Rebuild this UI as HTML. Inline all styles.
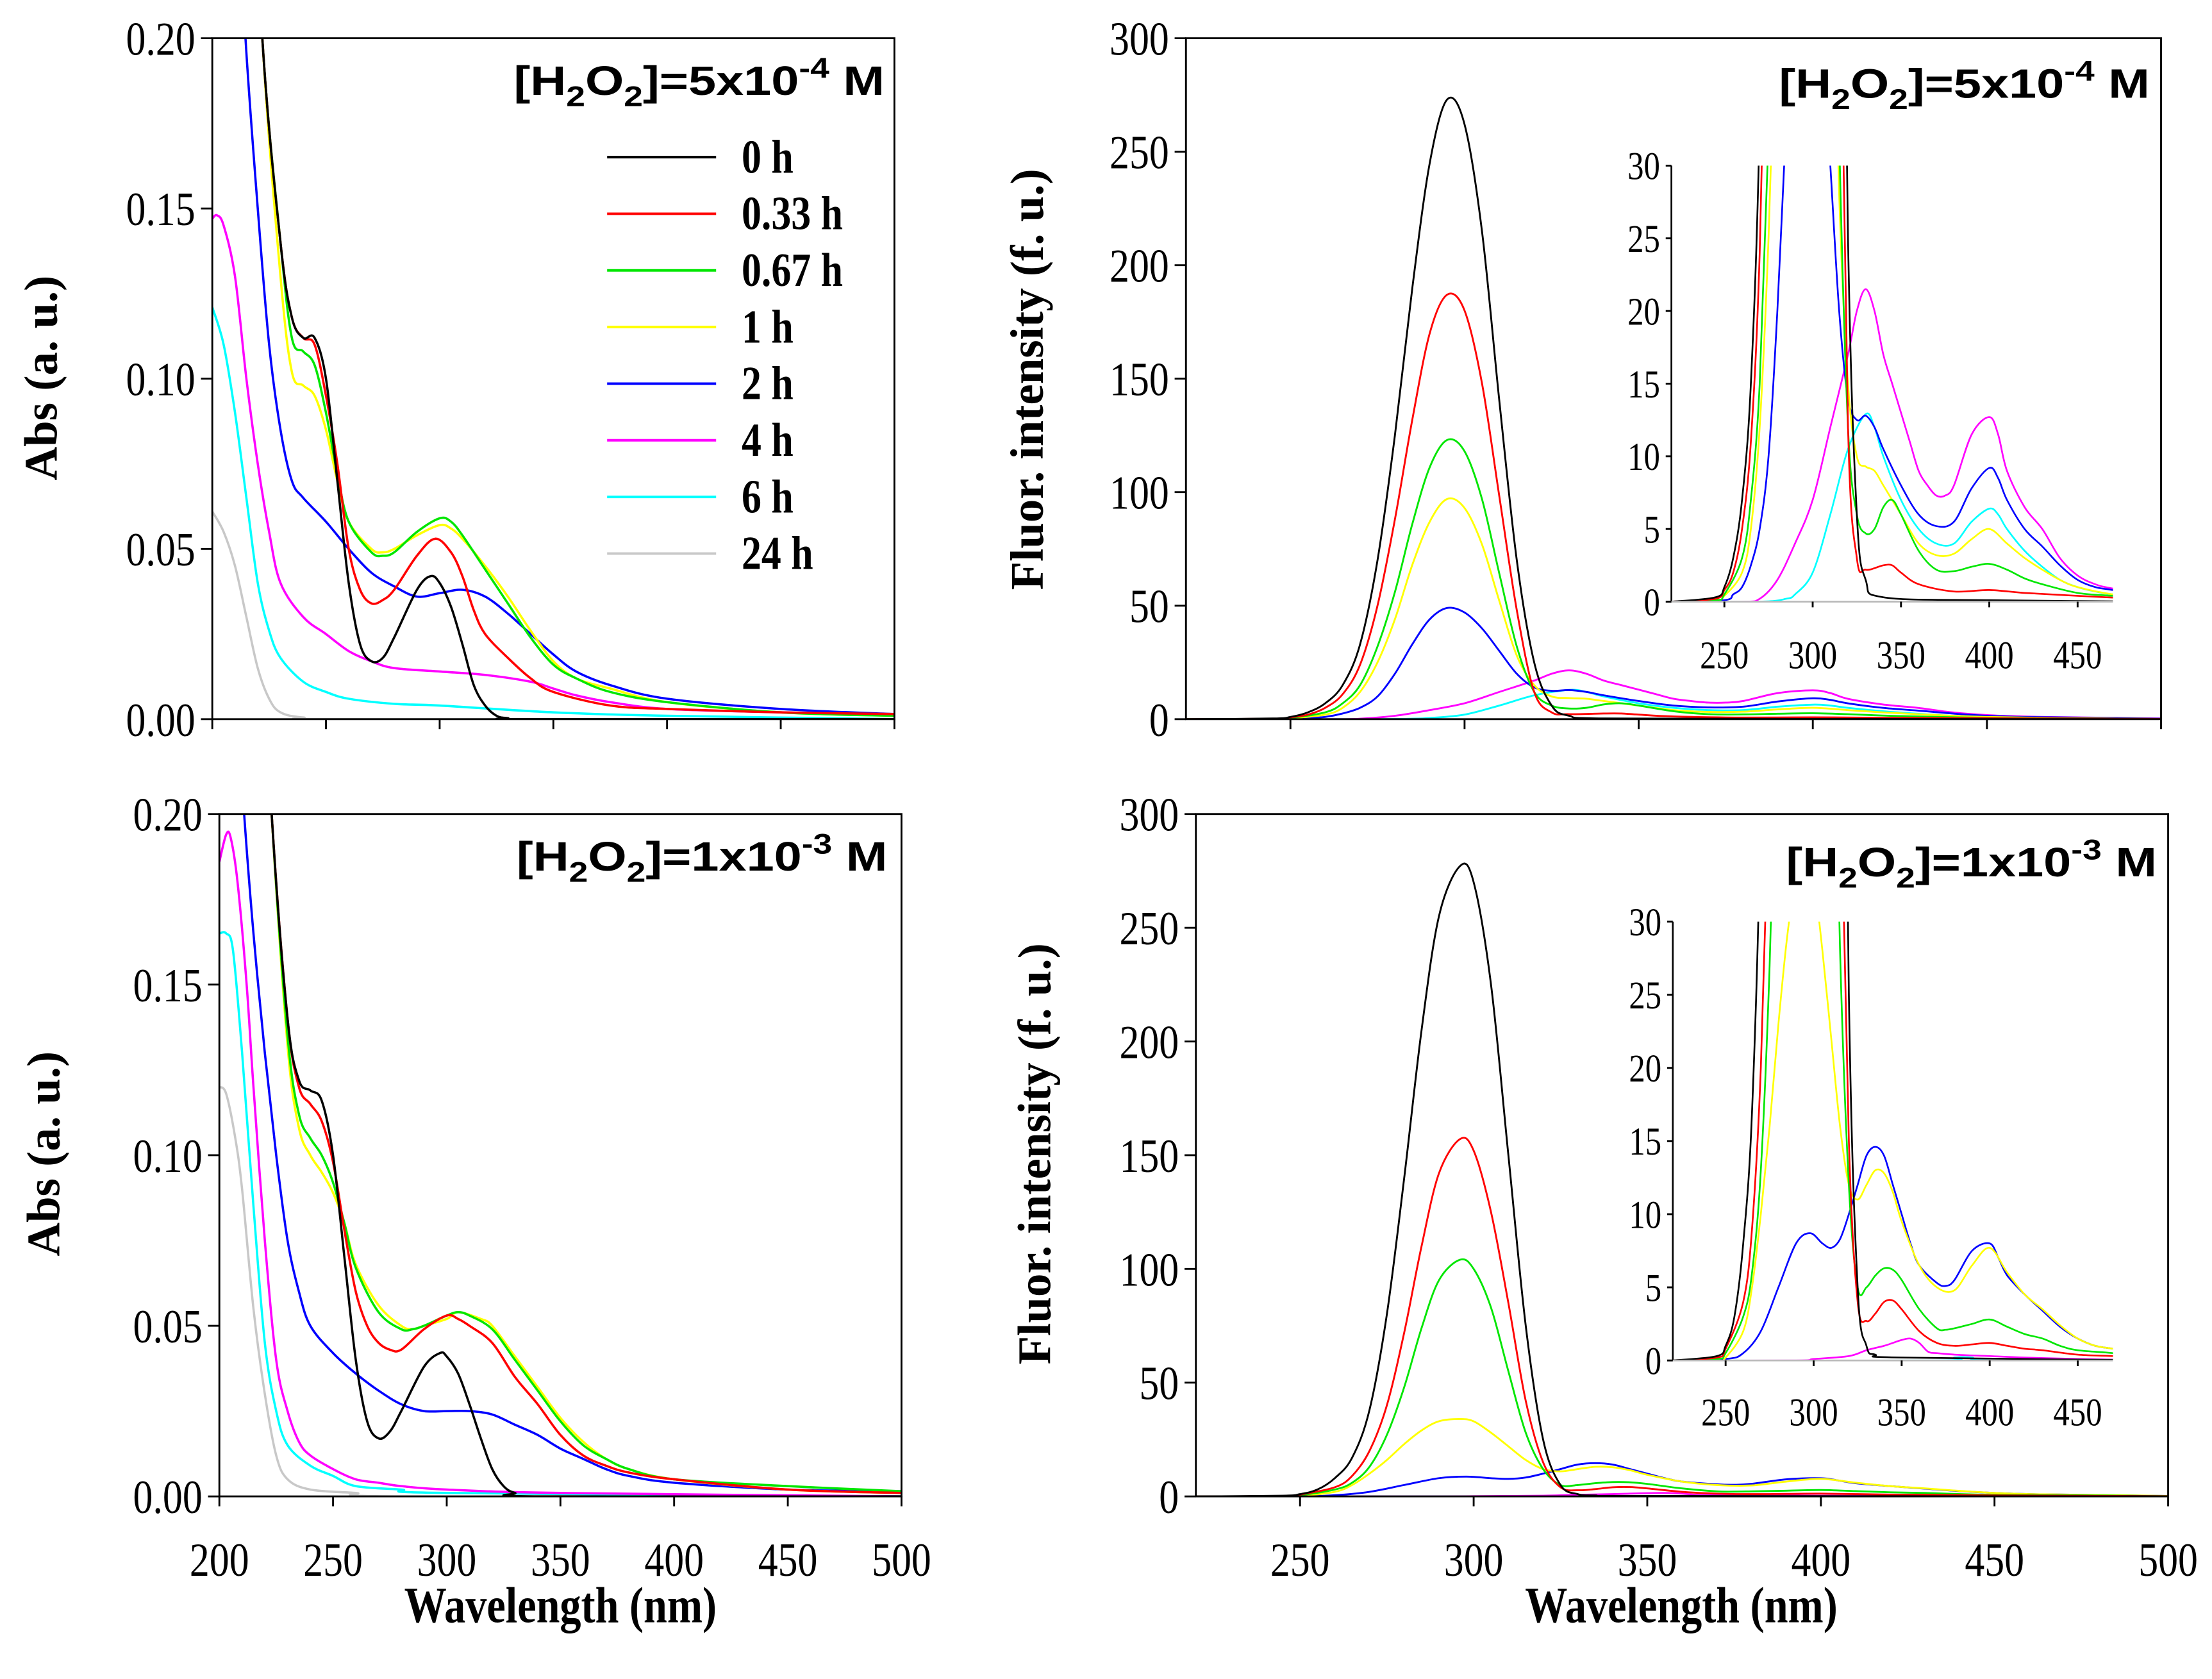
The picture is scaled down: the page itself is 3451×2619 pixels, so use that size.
<!DOCTYPE html>
<html><head><meta charset="utf-8"><style>
html,body{margin:0;padding:0;background:#fff;}
svg{display:block;}
</style></head><body>
<svg id="fig" xmlns="http://www.w3.org/2000/svg" width="3451" height="2619" viewBox="0 0 1563 1186" preserveAspectRatio="none">
<rect x="0" y="0" width="1563" height="1186" fill="#fff"/>
<g id="root"></g>
</svg>
<script>
// ---------- data: top-left absorbance, [H2O2]=5e-4 M ----------
const tlBlack=[[200,0.6],[215,0.3],[222,0.2],[230,0.14],[235,0.118],[240,0.112],[245,0.112],[250,0.1],[255,0.07],[260,0.04],[265,0.022],[270,0.017],[275,0.018],[280,0.024],[290,0.038],[296,0.042],[300,0.04],[305,0.033],[310,0.022],[315,0.01],[320,0.004],[325,0.001],[330,0.0003],[340,0],[500,0]];
const tlRed=[[200,0.6],[215,0.3],[222,0.2],[230,0.14],[235,0.118],[240,0.112],[245,0.11],[250,0.095],[255,0.075],[260,0.05],[265,0.038],[270,0.034],[275,0.035],[280,0.038],[290,0.048],[298,0.053],[305,0.049],[310,0.042],[315,0.032],[320,0.025],[330,0.018],[340,0.012],[350,0.008],[375,0.004],[400,0.003],[450,0.002],[500,0.0015]];
const tlGreen=[[200,0.6],[215,0.3],[222,0.2],[230,0.14],[235,0.112],[240,0.108],[245,0.104],[250,0.09],[255,0.072],[260,0.058],[270,0.049],[275,0.048],[280,0.049],[290,0.055],[300,0.059],[305,0.058],[310,0.054],[320,0.044],[330,0.034],[340,0.024],[350,0.016],[360,0.012],[375,0.008],[400,0.005],[450,0.002],[500,0.001]];
const tlYellow=[[200,0.6],[215,0.3],[222,0.2],[230,0.13],[235,0.102],[240,0.098],[245,0.095],[250,0.085],[255,0.07],[260,0.058],[270,0.05],[275,0.049],[280,0.05],[290,0.054],[300,0.057],[305,0.056],[310,0.053],[320,0.045],[330,0.036],[340,0.026],[350,0.017],[360,0.012],[375,0.009],[400,0.005],[450,0.002],[500,0.001]];
const tlBlue=[[200,0.4],[210,0.26],[214.6,0.2],[220,0.15],[225,0.11],[230,0.085],[235,0.07],[240,0.065],[250,0.058],[260,0.05],[270,0.043],[280,0.039],[290,0.036],[300,0.037],[310,0.038],[320,0.036],[330,0.031],[340,0.025],[350,0.019],[360,0.014],[375,0.01],[400,0.006],[450,0.003],[500,0.0015]];
const tlMagenta=[[200,0.147],[202,0.148],[205,0.145],[210,0.13],[215,0.1],[220,0.075],[225,0.055],[230,0.04],[240,0.03],[250,0.025],[260,0.02],[270,0.017],[280,0.015],[300,0.014],[320,0.013],[340,0.011],[350,0.009],[360,0.007],[375,0.005],[400,0.003],[450,0.002],[500,0.001]];
const tlCyan=[[200,0.121],[205,0.11],[210,0.09],[215,0.065],[220,0.04],[225,0.026],[230,0.018],[240,0.011],[250,0.008],[260,0.006],[280,0.0045],[300,0.004],[350,0.002],[400,0.001],[500,0]];
const tlGray=[[200,0.061],[205,0.055],[210,0.045],[215,0.03],[220,0.015],[225,0.006],[230,0.002],[240,0.0005],[260,0],[500,0]];
// ---------- data: bottom-left absorbance, [H2O2]=1e-3 M ----------
const blBlack=[[215,0.3],[223,0.2],[230,0.14],[235,0.122],[240,0.119],[245,0.116],[250,0.1],[255,0.07],[260,0.04],[265,0.022],[270,0.017],[275,0.019],[280,0.025],[290,0.038],[297,0.042],[300,0.041],[305,0.036],[310,0.027],[315,0.017],[320,0.008],[325,0.003],[330,0.001],[340,0],[500,0]];
const blRed=[[215,0.3],[223,0.2],[230,0.14],[235,0.12],[240,0.115],[245,0.11],[250,0.098],[255,0.078],[260,0.06],[265,0.05],[270,0.045],[275,0.043],[280,0.043],[290,0.049],[300,0.053],[305,0.052],[310,0.05],[320,0.045],[330,0.035],[340,0.027],[350,0.018],[360,0.012],[370,0.009],[380,0.007],[400,0.005],[450,0.002],[500,0.001]];
const blGreen=[[215,0.3],[223,0.2],[230,0.135],[235,0.112],[240,0.105],[245,0.1],[250,0.092],[255,0.08],[260,0.067],[270,0.054],[280,0.049],[285,0.049],[290,0.05],[300,0.053],[305,0.054],[310,0.053],[320,0.049],[330,0.04],[340,0.031],[350,0.022],[360,0.015],[370,0.011],[380,0.008],[400,0.005],[450,0.003],[500,0.0015]];
const blYellow=[[215,0.3],[223,0.2],[230,0.132],[235,0.108],[240,0.1],[245,0.095],[250,0.089],[255,0.08],[260,0.068],[270,0.056],[280,0.05],[285,0.049],[290,0.05],[300,0.052],[305,0.054],[315,0.052],[320,0.05],[330,0.041],[340,0.032],[350,0.023],[360,0.016],[370,0.011],[380,0.008],[400,0.005],[450,0.002],[500,0.001]];
const blBlue=[[205,0.26],[210.9,0.2],[215,0.165],[220,0.13],[225,0.1],[230,0.075],[235,0.06],[240,0.05],[250,0.042],[260,0.036],[270,0.031],[280,0.027],[290,0.025],[300,0.025],[310,0.025],[320,0.024],[330,0.021],[340,0.018],[350,0.014],[360,0.011],[370,0.008],[380,0.006],[400,0.004],[450,0.002],[500,0.0015]];
const blMagenta=[[200,0.186],[203,0.194],[205,0.193],[208,0.18],[212,0.15],[215,0.12],[220,0.075],[225,0.04],[230,0.025],[235,0.016],[240,0.012],[250,0.008],[260,0.005],[270,0.004],[280,0.003],[300,0.002],[350,0.001],[500,0]];
const blCyan=[[200,0.165],[203,0.165],[206,0.16],[210,0.13],[215,0.085],[220,0.045],[225,0.025],[230,0.015],[240,0.009],[250,0.006],[260,0.003],[280,0.002],[300,0.001],[500,0]];
const blGray=[[200,0.12],[203,0.118],[207,0.105],[210,0.09],[215,0.055],[220,0.03],[225,0.012],[230,0.005],[240,0.002],[260,0.001],[280,0],[500,0]];
// ---------- data: top-right fluorescence, [H2O2]=5e-4 M ----------
const trBlack=[[220,0],[245,0.3],[250,1],[255,3],[260,7],[265,15],[270,33],[275,70],[280,125],[285,190],[290,245],[295,273],[300,262],[305,215],[310,140],[315,70],[320,25],[325,6],[330,1.5],[340,0.3],[400,0.1],[500,0]];
const trRed=[[220,0],[245,0.2],[250,0.8],[255,2],[260,5],[265,11],[270,24],[275,50],[280,88],[285,132],[290,170],[295,187],[300,180],[305,148],[310,98],[315,48],[320,12],[325,3],[330,2.2],[340,2.5],[345,2.5],[350,2],[360,1.2],[380,0.7],[400,0.8],[420,0.6],[450,0.4],[500,0.1]];
const trGreen=[[220,0],[245,0.1],[250,0.5],[260,3],[265,7],[270,15],[275,32],[280,56],[285,86],[290,111],[295,123],[300,118],[305,97],[310,64],[315,32],[320,12],[325,6],[330,4.7],[335,5],[340,6.5],[345,7],[350,6],[360,3.5],[370,2.2],[380,2.1],[390,2.4],[400,2.6],[410,2.2],[420,1.6],[430,1.2],[450,0.6],[470,0.4],[500,0.1]];
const trYellow=[[220,0],[245,0.1],[250,0.4],[260,2],[265,5],[270,12],[275,25],[280,44],[285,68],[290,87],[295,97],[300,93],[305,77],[310,52],[315,28],[320,15],[325,10],[330,9.3],[335,9],[340,8],[350,6],[360,4],[370,3.2],[380,3.3],[390,4.3],[400,5],[410,4],[420,3],[430,2.2],[440,1.5],[450,1],[470,0.5],[500,0.1]];
const trBlue=[[220,0],[250,0.1],[255,0.5],[260,1],[265,2.5],[270,5],[275,10],[280,20],[285,33],[290,44],[295,49],[300,47],[305,40],[310,30],[315,20],[320,14],[325,12.5],[330,12.8],[335,12],[340,10.5],[350,8],[360,6],[370,5.2],[380,5.5],[390,7.8],[400,9.2],[405,8.5],[410,7],[420,5],[430,3.8],[440,2.5],[450,1.5],[460,1],[470,0.8],[500,0.2]];
const trMagenta=[[220,0],[260,0],[270,0.2],[280,1.5],[290,4],[300,7],[310,12],[320,17],[325,20],[330,21.5],[335,20],[340,17],[345,15],[350,13],[355,11],[360,9],[365,8],[370,7.3],[375,7.3],[380,8],[390,11.5],[400,12.7],[405,11.5],[410,9],[420,6.5],[430,5],[440,3],[450,1.8],[460,1.2],[470,0.9],[500,0.3]];
const trCyan=[[220,0],[270,0],[285,0.2],[290,0.5],[300,2],[310,6],[320,10.5],[330,12.9],[335,12],[340,10],[350,7],[360,5],[370,4],[380,4],[390,5.5],[400,6.4],[405,6],[410,5],[420,3.5],[430,2.4],[440,1.5],[450,1],[460,0.7],[470,0.5],[500,0.1]];
const trGray=[[220,0],[500,0]];
// ---------- data: bottom-right fluorescence, [H2O2]=1e-3 M ----------
const brBlack=[[220,0],[245,0.3],[250,1],[255,3],[260,8],[265,17],[270,38],[275,80],[280,140],[285,205],[290,255],[296,277],[300,270],[305,225],[310,150],[315,75],[320,25],[325,5],[330,1],[335,0.4],[350,0.2],[500,0]];
const brRed=[[220,0],[245,0.2],[250,0.8],[260,4],[265,9],[270,20],[275,40],[280,72],[285,110],[290,142],[296,157],[300,152],[305,125],[310,85],[315,42],[320,15],[325,4],[330,2.7],[335,3.2],[340,4],[345,4.1],[350,3.5],[360,2],[370,1.2],[380,1],[390,1.1],[400,1.2],[410,1],[420,0.8],[430,0.7],[450,0.4],[470,0.3],[500,0.1]];
const brGreen=[[220,0],[245,0.1],[250,0.5],[260,3],[265,6],[270,13],[275,27],[280,48],[285,74],[290,95],[296,104],[300,100],[305,83],[310,55],[315,28],[320,12],[325,5],[330,5],[335,5.8],[340,6.3],[345,6.2],[350,5.5],[360,3.5],[370,2.2],[375,2.1],[380,2.2],[390,2.5],[400,2.8],[410,2.3],[420,1.8],[430,1.5],[440,1],[450,0.7],[470,0.5],[500,0.1]];
const brYellow=[[220,0],[245,0],[250,0.2],[260,2],[265,5],[270,10],[275,16],[280,23],[285,29],[290,33],[296,34],[300,33],[305,28],[310,22],[315,16],[320,12],[325,11],[330,12],[335,13],[340,12.8],[345,11.5],[350,9.5],[360,6.5],[370,5],[380,4.8],[390,6.5],[400,7.7],[410,6],[420,4.5],[430,3.5],[440,2.4],[450,1.5],[460,1],[470,0.8],[500,0.2]];
const brBlue=[[220,0],[250,0.1],[260,0.5],[270,2],[280,5],[290,8],[298,8.7],[305,8],[310,7.7],[315,8.3],[320,10],[325,12],[330,14],[335,14.6],[340,14],[345,12],[350,10],[355,8],[360,6.5],[370,5.3],[375,5.1],[380,5.5],[390,7.5],[400,8],[405,7],[410,5.8],[420,4.5],[430,3.4],[440,2.3],[450,1.5],[460,1],[470,0.8],[500,0.2]];
const brMagenta=[[220,0],[290,0],[300,0.1],[320,0.3],[330,0.7],[340,1],[345,1.2],[350,1.4],[355,1.5],[360,1.2],[365,0.6],[370,0.5],[380,0.4],[400,0.3],[420,0.2],[450,0.1],[500,0]];
const brCyan=[[220,0],[370,0],[380,0.2],[390,0.2],[400,0],[500,0]];
const brGray=[[220,0],[500,0]];

const absYTicks=[0,0.05,0.10,0.15,0.20];
const absYLabels=["0.00","0.05","0.10","0.15","0.20"];
const absXTicks=[200,250,300,350,400,450,500];
const flYTicks=[0,50,100,150,200,250,300];
const flXTicks=[250,300,350,400,450,500];
const inYTicks=[0,5,10,15,20,25,30];
const inXTicks=[250,300,350,400,450];
const legendLabels=["0 h","0.33 h","0.67 h","1 h","2 h","4 h","6 h","24 h"];
const COLORS=["#000000","#ff0000","#00e600","#ffff00","#0000ff","#ff00ff","#00ffff","#c8c8c8"];

const NS="http://www.w3.org/2000/svg";
const root=document.getElementById('root');
function mk(tag,attrs,parent){const e=document.createElementNS(NS,tag);for(const k in attrs)e.setAttribute(k,attrs[k]);(parent||root).appendChild(e);return e;}
function sx(p,x){return p.x0+(x-p.xmin)/(p.xmax-p.xmin)*(p.x1-p.x0);}
function sy(p,y){return p.y1-(y-p.ymin)/(p.ymax-p.ymin)*(p.y1-p.y0);}
function pathD(p,pts){
  const P=pts.map(q=>[sx(p,q[0]),sy(p,q[1])]);
  let d="M"+P[0][0].toFixed(2)+","+P[0][1].toFixed(2);
  for(let i=0;i<P.length-1;i++){
    const p0=P[Math.max(0,i-1)],p1=P[i],p2=P[i+1],p3=P[Math.min(P.length-1,i+2)];
    const c1=[p1[0]+(p2[0]-p0[0])/6,p1[1]+(p2[1]-p0[1])/6];
    const c2=[p2[0]-(p3[0]-p1[0])/6,p2[1]-(p3[1]-p1[1])/6];
    d+=" C"+c1[0].toFixed(2)+","+c1[1].toFixed(2)+" "+c2[0].toFixed(2)+","+c2[1].toFixed(2)+" "+p2[0].toFixed(2)+","+p2[1].toFixed(2);
  }
  return d;
}
let clipN=0;
function drawSeries(p,seriesList,names,sw){
  const id="clip"+(clipN++);
  const cp=mk('clipPath',{id:id});
  mk('rect',{x:p.x0,y:p.y0,width:p.x1-p.x0,height:p.y1-p.y0},cp);
  const g=mk('g',{'clip-path':'url(#'+id+')'});
  
  
  for(let i=seriesList.length-1;i>=0;i--){
    const el=mk('path',{d:pathD(p,seriesList[i]),fill:'none',stroke:COLORS[i],'stroke-width':sw,'stroke-linejoin':'round'},g);
    
    
  }
}
function text(x,y,str,attrs,name){
  const t=mk('text',Object.assign({x:x,y:y},attrs));
  t.textContent=str;
  
  
  return t;
}
const serif='"Liberation Serif", "DejaVu Serif", serif';
const sans='"Liberation Sans", "DejaVu Sans", sans-serif';
function frame(p,name){
  const r=mk('rect',{x:p.x0,y:p.y0,width:p.x1-p.x0,height:p.y1-p.y0,fill:'none',stroke:'#000','stroke-width':1.3});
  
  
}
// tall labels: scale vertically about baseline
function tallText(x,y,str,fs,anchor,sy_,name,bold){
  const a={'font-family':serif,'font-size':fs,'text-anchor':anchor,transform:'translate('+x+','+y+') scale(1,'+sy_+')'};
  if(bold)a['font-weight']='bold';
  return text(0,0,str,a,name);
}
function yAxis(p,ticks,labels,fs,tl,name){
  ticks.forEach((v,i)=>{
    const y=sy(p,v);
    const l=mk('line',{x1:p.x0-tl,x2:p.x0,y1:y,y2:y,stroke:'#000','stroke-width':1.3});
    
    
    tallText(p.x0-tl-4,y+fs*0.42,labels[i],fs,'end',1.2,name+'-tick-label');
  });
}
function xAxis(p,ticks,showLabels,fs,tl,ly,name){
  ticks.forEach(v=>{
    const x=sx(p,v);
    const l=mk('line',{x1:x,x2:x,y1:p.y1,y2:p.y1+tl,stroke:'#000','stroke-width':1.3});
    
    
    if(showLabels) tallText(x,ly,String(v),fs,'middle',1.2,name+'-tick-label');
  });
}
function title(xr,y,exp,name){
  const t=mk('text',{x:xr,y:y,'font-family':sans,'font-size':29,'font-weight':'bold','text-anchor':'end',textLength:262,lengthAdjust:'spacingAndGlyphs'});
  
  
  t.innerHTML='[H<tspan font-size="20" dy="8">2</tspan><tspan dy="-8">O</tspan><tspan font-size="20" dy="8">2</tspan><tspan dy="-8">]=</tspan><tspan>'+exp[0]+'x10</tspan><tspan font-size="20" dy="-12">'+exp[1]+'</tspan><tspan dy="12"> M</tspan>';
}
const names=["0h","0-33h","0-67h","1h","2h","4h","6h","24h"];

const TL={name:'abs-top',x0:150,x1:632,y0:27,y1:508,xmin:200,xmax:500,ymin:0,ymax:0.2};
const BL={name:'abs-bottom',x0:155,x1:637,y0:575,y1:1057,xmin:200,xmax:500,ymin:0,ymax:0.2};
const TR={name:'fluor-top',x0:838,x1:1527,y0:27,y1:508,xmin:220,xmax:500,ymin:0,ymax:300};
const BR={name:'fluor-bottom',x0:845,x1:1532,y0:575,y1:1057,xmin:220,xmax:500,ymin:0,ymax:300};
const TRI={name:'fluor-top-inset',x0:1181,x1:1493,y0:117,y1:425,xmin:220,xmax:470,ymin:0,ymax:30};
const BRI={name:'fluor-bottom-inset',x0:1182,x1:1493,y0:651,y1:961,xmin:220,xmax:470,ymin:0,ymax:30};

const tlS=[tlBlack,tlRed,tlGreen,tlYellow,tlBlue,tlMagenta,tlCyan,tlGray];
const blS=[blBlack,blRed,blGreen,blYellow,blBlue,blMagenta,blCyan,blGray];
const trS=[trBlack,trRed,trGreen,trYellow,trBlue,trMagenta,trCyan,trGray];
const brS=[brBlack,brRed,brGreen,brYellow,brBlue,brMagenta,brCyan,brGray];

// Top-left
drawSeries(TL,tlS,names,1.6);
frame(TL,'abs-top-frame');
yAxis(TL,absYTicks,absYLabels,28,8,'abs-top-y');
xAxis(TL,absXTicks,false,28,7,0,'abs-top-x');
title(625,67,['5','-4'],'abs-top-condition-label');
legendLabels.forEach((lab,i)=>{
  const y=111+i*40;
  const l=mk('line',{x1:429,x2:506,y1:y,y2:y,stroke:COLORS[i],'stroke-width':1.8});
  
  
  tallText(524,y+11,lab,28,'start',1.2,'legend-entry-'+names[i],true);
});
text(0,0,'Abs (a. u.)',{'font-family':serif,'font-size':30,'font-weight':'bold','text-anchor':'middle',transform:'translate(40,267) rotate(-90) scale(1.1,1.1)'},'abs-top-y-axis-title');

// Bottom-left
drawSeries(BL,blS,names,1.6);
frame(BL,'abs-bottom-frame');
yAxis(BL,absYTicks,absYLabels,28,8,'abs-bottom-y');
xAxis(BL,absXTicks,true,28,7,1113,'abs-bottom-x');
title(627,615,['1','-3'],'abs-bottom-condition-label');
text(0,0,'Abs (a. u.)',{'font-family':serif,'font-size':30,'font-weight':'bold','text-anchor':'middle',transform:'translate(42,815) rotate(-90) scale(1.1,1.1)'},'abs-bottom-y-axis-title');
tallText(396,1146,'Wavelength (nm)',30,'middle',1.2,'abs-x-axis-title',true);

// Top-right
drawSeries(TR,trS,names,1.3);
frame(TR,'fluor-top-frame');
yAxis(TR,flYTicks,flYTicks.map(String),28,8,'fluor-top-y');
xAxis(TR,flXTicks,false,28,7,0,'fluor-top-x');
title(1519,69,['5','-4'],'fluor-top-condition-label');
text(0,0,'Fluor. intensity (f. u.)',{'font-family':serif,'font-size':30,'font-weight':'bold','text-anchor':'middle',transform:'translate(737,268) rotate(-90) scale(1.1,1.1)'},'fluor-top-y-axis-title');
mk('rect',{x:TRI.x0,y:TRI.y0,width:TRI.x1-TRI.x0,height:TRI.y1-TRI.y0,fill:'#fff'});
drawSeries(TRI,trS,names,1.2);
(function(){const l=mk('line',{x1:TRI.x0,x2:TRI.x0,y1:TRI.y0,y2:TRI.y1,stroke:'#000','stroke-width':1.2});
const b=mk('line',{x1:TRI.x0,x2:TRI.x1,y1:TRI.y1,y2:TRI.y1,stroke:'#bbb','stroke-width':1.2});})();
yAxis(TRI,inYTicks,inYTicks.map(String),23,4,'fluor-top-inset-y');
xAxis(TRI,inXTicks,true,23,4,472,'fluor-top-inset-x');

// Bottom-right
drawSeries(BR,brS,names,1.3);
frame(BR,'fluor-bottom-frame');
yAxis(BR,flYTicks,flYTicks.map(String),28,8,'fluor-bottom-y');
xAxis(BR,flXTicks,true,28,7,1113,'fluor-bottom-x');
title(1524,619,['1','-3'],'fluor-bottom-condition-label');
text(0,0,'Fluor. intensity (f. u.)',{'font-family':serif,'font-size':30,'font-weight':'bold','text-anchor':'middle',transform:'translate(742,815) rotate(-90) scale(1.1,1.1)'},'fluor-bottom-y-axis-title');
tallText(1188,1146,'Wavelength (nm)',30,'middle',1.2,'fluor-x-axis-title',true);
mk('rect',{x:BRI.x0,y:BRI.y0,width:BRI.x1-BRI.x0,height:BRI.y1-BRI.y0,fill:'#fff'});
drawSeries(BRI,brS,names,1.2);
(function(){const l=mk('line',{x1:BRI.x0,x2:BRI.x0,y1:BRI.y0,y2:BRI.y1,stroke:'#000','stroke-width':1.2});
const b=mk('line',{x1:BRI.x0,x2:BRI.x1,y1:BRI.y1,y2:BRI.y1,stroke:'#bbb','stroke-width':1.2});})();
yAxis(BRI,inYTicks,inYTicks.map(String),23,4,'fluor-bottom-inset-y');
xAxis(BRI,inXTicks,true,23,4,1007,'fluor-bottom-inset-x');
</script>
</body></html>
